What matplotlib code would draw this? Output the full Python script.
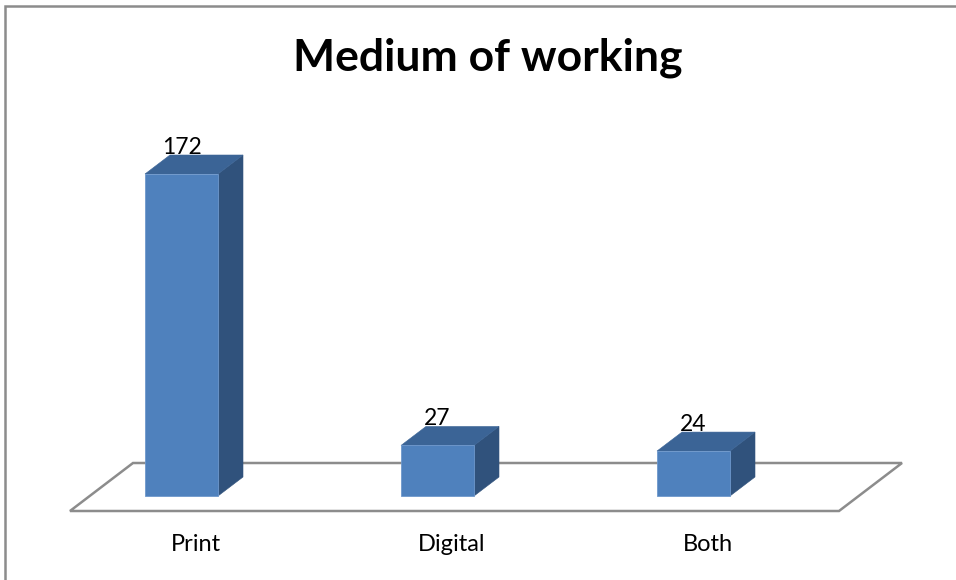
import matplotlib
matplotlib.use("Agg")
import matplotlib.pyplot as plt
from matplotlib.patches import Polygon, Rectangle

categories = ["Print", "Digital", "Both"]
values = [172, 27, 24]
title = "Medium of working"

FRONT = "#4F81BD"
TOP = "#3B6496"
SIDE = "#30527C"
FLOOR = "#8C8C8C"

W, H, DPI = 956, 580, 100
fig = plt.figure(figsize=(W / DPI, H / DPI), dpi=DPI)
fig.patch.set_facecolor("white")
ax = fig.add_axes([0, 0, 1, 1])
ax.set_axis_off()

# category spacing 256 px, 1 value unit = 1.872 px
px_x = 256.0
px_y = 322.0 / 172.0
x0_px, y0_px = 181.5, 496.0
ax.set_xlim(-x0_px / px_x, (W - x0_px) / px_x)
ax.set_ylim(-(H - y0_px) / px_y, y0_px / px_y)

bar_w = 73 / px_x
dx = 25 / px_x          # oblique depth offset
dy = 19 / px_y

# floor
fl_front, fl_back = -15 / px_y, 33 / px_y
fl_l, fl_r = -111.5 / px_x, 657.5 / px_x
fl_skew = 63 / px_x
floor = Polygon([(fl_l, fl_front), (fl_r, fl_front), (fl_r + fl_skew, fl_back),
                 (fl_l + fl_skew, fl_back)], closed=True, facecolor="white",
                edgecolor=FLOOR, lw=1.8, zorder=1)
ax.add_patch(floor)

xs = list(range(len(categories)))
bars = ax.bar(xs, values, width=bar_w, bottom=0, color=FRONT,
              edgecolor="#6E98CC", linewidth=0.6, zorder=5)
for x, v in zip(xs, values):
    l, r = x - bar_w / 2, x + bar_w / 2
    ax.add_patch(Polygon([(r, 0), (r + dx, dy), (r + dx, v + dy), (r, v)],
                         closed=True, facecolor=SIDE, edgecolor=SIDE, lw=0.4, zorder=4))
    ax.add_patch(Polygon([(l, v), (r, v), (r + dx, v + dy), (l + dx, v + dy)],
                         closed=True, facecolor=TOP, edgecolor=TOP, lw=0.4, zorder=4))
    ax.text(x, v + dy + 0.8, str(v), ha="center", va="baseline",
            fontsize=16.5, family="Lato", color="black", zorder=6)
    ax.text(x + 14 / px_x, -29.6, categories[x], ha="center", va="baseline",
            fontsize=17, family="Lato", color="black", zorder=6)

fig.text(488 / W, 1 - 58 / H, title, ha="center", va="center",
         fontsize=32, fontweight="bold", family="Lato", color="black")

# chart frame
fig.add_artist(Rectangle((5 / W, -0.1), 1.2, 1.1 - 6 / H, transform=fig.transFigure,
                         facecolor="none", edgecolor=FLOOR, lw=1.8, clip_on=False))

fig.savefig("out.png", dpi=DPI)
